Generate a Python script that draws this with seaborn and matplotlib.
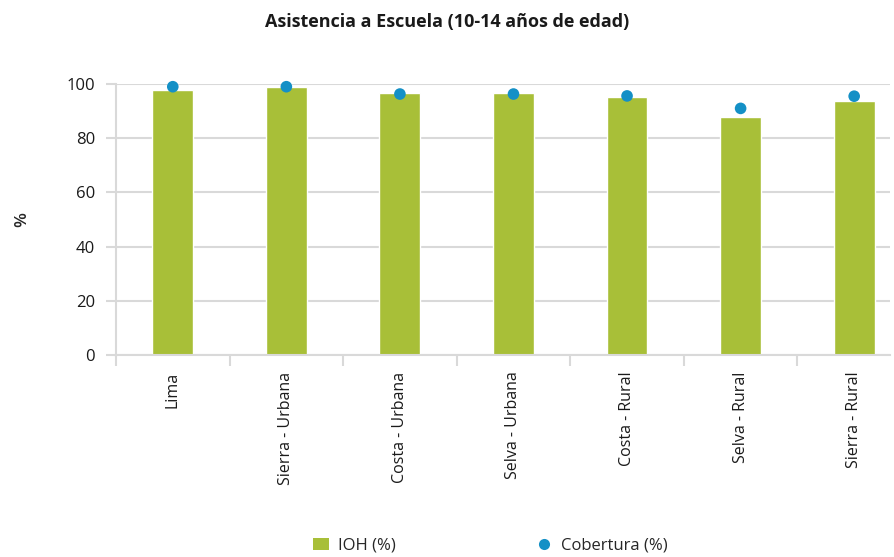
import matplotlib
matplotlib.use("Agg")
import matplotlib.pyplot as plt
from matplotlib.lines import Line2D
from matplotlib.patches import Patch
import seaborn as sns
import pandas as pd
import numpy as np

categories = ["Lima", "Sierra - Urbana", "Costa - Urbana", "Selva - Urbana",
              "Costa - Rural", "Selva - Rural", "Sierra - Rural"]
ioh = [97.8, 98.9, 96.6, 96.6, 95.1, 88.0, 93.6]
cobertura = [99.0, 99.0, 96.3, 96.3, 95.6, 91.0, 95.5]
yticks = [0, 20, 40, 60, 80, 100]

bar_color = "#A8BF38"
dot_color = "#1490C6"
grid_color = "#D9D9D9"

sns.set_style("white")
plt.rcParams["font.family"] = ["Open Sans", "DejaVu Sans"]

df = pd.DataFrame({"cat": categories, "ioh": ioh, "cob": cobertura})

fig = plt.figure(figsize=(8.94, 5.57), dpi=100)
W, H = 894, 557
left, right, top, bottom = 116, 890, 84, 355
ax = fig.add_axes([left / W, (H - bottom) / H, (right - left) / W, (bottom - top) / H])

sns.barplot(data=df, x="cat", y="ioh", color=bar_color, width=0.36,
            saturation=1, ax=ax, zorder=2)
sns.scatterplot(x=np.arange(len(categories)), y=df["cob"], color=dot_color,
                s=70, edgecolor="none", ax=ax, zorder=3, clip_on=False)

ax.set_ylim(0, 100)
ax.set_xlim(-0.5, 6.5 - (911 - 890) / 113.8)
ax.set_yticks(yticks)
ax.set_yticklabels([str(v) for v in yticks], fontsize=12)
ax.yaxis.grid(True, color=grid_color, linewidth=1.5, zorder=0)
ax.set_axisbelow(True)

ax.set_xticks(np.arange(len(categories)))
ax.set_xticklabels(categories, rotation=90, fontsize=11.5)
ax.set_xticks(np.arange(len(categories)) - 0.5, minor=True)
ax.tick_params(axis="x", which="major", length=0, pad=12, bottom=True)
ax.tick_params(axis="x", which="minor", length=8, color=grid_color, width=1.5,
               direction="out", bottom=True)
ax.tick_params(axis="y", length=7, color=grid_color, width=1.5, direction="out",
               pad=8, left=True)
ax.tick_params(axis="both", labelcolor="#1a1a1a")

for s in ["top", "right"]:
    ax.spines[s].set_visible(False)
ax.spines["left"].set_color(grid_color)
ax.spines["left"].set_linewidth(1.5)
ax.spines["bottom"].set_color(grid_color)
ax.spines["bottom"].set_linewidth(1.5)

ax.set_xlabel("")
ax.set_ylabel("%", fontsize=12.5, fontweight="semibold", labelpad=26)

fig.text(0.5, 1 - 22 / H, "Asistencia a Escuela (10-14 años de edad)",
         ha="center", va="center", fontsize=13, fontweight="bold", color="#1a1a1a")

handles = [Patch(facecolor=bar_color, edgecolor="none", label="IOH (%)"),
           Line2D([0], [0], marker="o", color="none", markerfacecolor=dot_color,
                  markeredgecolor="none", markersize=8, label="Cobertura (%)")]
fig.legend(handles=handles, loc="center", bbox_to_anchor=(490 / W, 1 - 546 / H),
           ncol=2, frameon=False, fontsize=12, columnspacing=8.4, handlelength=1.0,
           handletextpad=0.5)

fig.savefig("out.png", dpi=100)
